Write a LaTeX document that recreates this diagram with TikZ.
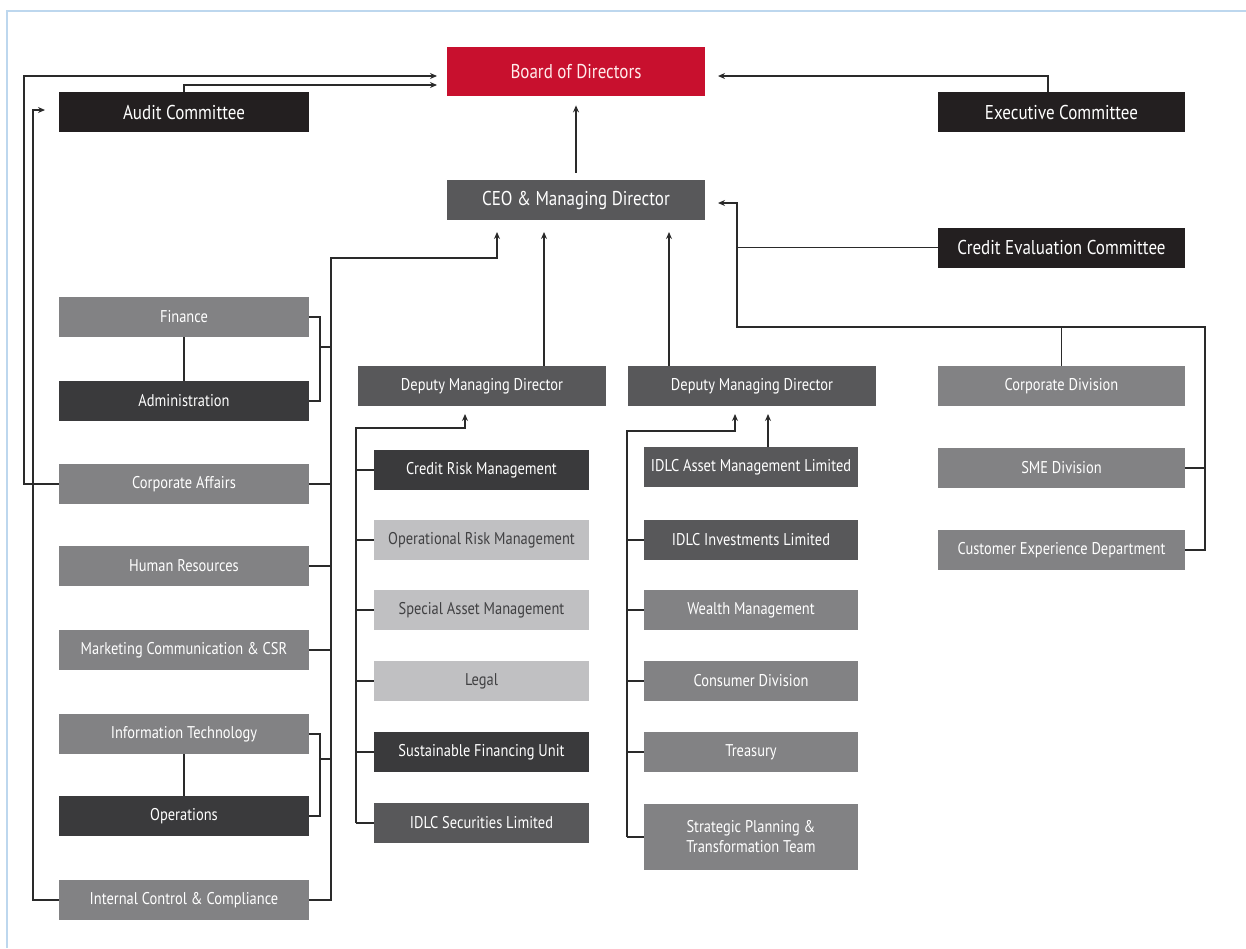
\documentclass[tikz,border=0pt]{standalone}
\usepackage{fontspec}
\setmainfont[FakeStretch=0.85]{PT Sans}
\usetikzlibrary{arrows.meta}
\definecolor{boardred}{HTML}{C8102E}
\definecolor{cblack}{HTML}{231F20}
\definecolor{cmid}{HTML}{58585A}
\definecolor{cdark}{HTML}{3A3A3C}
\definecolor{cgray}{HTML}{828284}
\definecolor{clight}{HTML}{C0C0C2}
\definecolor{ctext}{HTML}{404042}
\definecolor{frameblue}{HTML}{BDD7EE}
\definecolor{wirecol}{HTML}{2A2A2A}

\begin{document}
\begin{tikzpicture}[x=0.5pt,y=-0.5pt,
    box/.style={fill=#1,inner sep=0pt,minimum width=125pt,minimum height=20pt,
      text=white,font=\fontsize{8.5}{10}\selectfont},
    big/.style={font=\fontsize{10}{12}\selectfont},
    wire/.style={draw=wirecol,line width=0.8pt},
    >={Stealth[length=3.5pt,width=3pt]}]
        \useasboundingbox (0,0) rectangle (1246,948);
        \draw[frameblue,line width=1pt] (7,948) -- (7,11) -- (1246,11);

        \node[box=boardred,big,minimum width=129pt,minimum height=24.5pt,text=red!8] (bod) at (576,71.5) {Board of Directors};
        \node[box=cblack,big] (audit) at (184,112) {Audit Committee};
        \node[box=cblack,big,minimum width=123.5pt] (exec) at (1061.5,112) {Executive Committee};
        \node[box=cmid,big,minimum width=129pt] (ceo) at (576,200) {CEO \& Managing Director};
        \node[box=cblack,big,minimum width=123.5pt] (cec) at (1061.5,247.5) {Credit Evaluation Committee};
        \node[box=cmid,minimum width=124pt] (dmd1) at (482,386) {Deputy Managing Director};
        \node[box=cmid,minimum width=124pt] (dmd2) at (752,386) {Deputy Managing Director};

        \foreach \n/\y/\c/\t in {fin/317/cgray/Finance, adm/401/cdark/Administration,
            corp/484/cgray/Corporate Affairs, hr/566/cgray/Human Resources,
            mcc/650/cgray/Marketing Communication \& CSR, it/734/cgray/Information Technology,
            ops/816/cdark/Operations, icc/900/cgray/Internal Control \& Compliance}
          \node[box=\c] (\n) at (184,\y) {\t};

        \foreach \n/\y/\c/\f/\t in {crm/470/cdark/white/Credit Risk Management,
            orm/540/clight/ctext/Operational Risk Management,
            sam/610/clight/ctext/Special Asset Management,
            leg/681/clight/ctext/Legal,
            sfu/752/cdark/white/Sustainable Financing Unit,
            isl/823/cmid/white/IDLC Securities Limited}
          \node[box=\c,text=\f,minimum width=107.5pt] (\n) at (481.5,\y) {\t};

        \foreach \n/\y/\c/\t in {iaml/467/cmid/IDLC Asset Management Limited,
            iil/540/cmid/IDLC Investments Limited, wm/610/cgray/Wealth Management,
            cd/681/cgray/Consumer Division, tre/752/cgray/Treasury}
          \node[box=\c,minimum width=107pt] (\n) at (751,\y) {\t};
        \node[box=cgray,minimum width=107pt,minimum height=33pt,align=center] (sptt) at (751,837)
          {Strategic Planning \&\\Transformation Team};

        \foreach \n/\y/\t in {corpdiv/386/Corporate Division, sme/468/SME Division,
            cust/550/Customer Experience Department}
          \node[box=cgray,minimum width=123.5pt] (\n) at (1061.5,\y) {\t};

        % top level
        \coordinate (ba) at (437,85);
        \coordinate (bc) at (437,76);
        \coordinate (be) at (718,76);
        \coordinate (ex) at (1048,0);
        \coordinate (lo) at (24,0);
        \coordinate (li) at (33,0);
        \coordinate (at) at (45,110);
        \draw[wire,->] ([yshift=3.5pt]ceo.north) -- ([yshift=-4.5pt]bod.south);
        \draw[wire,->] (audit.north) |- (ba);
        \draw[wire,->] (exec.north -| ex) |- (be);
        \draw[wire,->] (corp.west) -- (corp.west -| lo) |- (bc);
        \draw[wire,->] (icc.west) -- (icc.west -| li) |- (at);

        % left column
        \coordinate (lb) at (331,258);
        \coordinate (tl) at (497,232);
        \coordinate (fa) at (320,347);
        \coordinate (io) at (320,759);
        \draw[wire,->] (icc.east) -| (lb) -| (tl);
        \foreach \n in {corp,hr,mcc}
          \draw[wire] (\n.east) -- (\n.east -| lb);
        \draw[wire] (fin.east) -| (fa |- fin.east) |- (adm.east);
        \draw[wire] (it.east) -| (io |- it.east) |- (ops.east);
        \draw[wire] (fa) -- (fa -| lb);
        \draw[wire] (io) -- (io -| lb);
        \draw[wire] (fin.south) -- (adm.north);
        \draw[wire] (it.south) -- (ops.north);

        % deputies
        \coordinate (t1) at (544,232);
        \coordinate (t2) at (669,232);
        \draw[wire,->] (dmd1.north -| t1) -- (t1);
        \draw[wire,->] (dmd2.north -| t2) -- (t2);

        \coordinate (b1) at (356,428);
        \coordinate (d1) at (465,414);
        \draw[wire,->] (isl.west -| b1) |- (d1 |- b1) -- (d1);
        \foreach \n in {crm,orm,sam,leg,sfu,isl}
          \draw[wire] (\n.west) -- (\n.west -| b1);

        \coordinate (b2) at (627,431);
        \coordinate (d2) at (735,414);
        \coordinate (d3) at (768,414);
        \draw[wire,->] (sptt.west -| b2) |- (d2 |- b2) -- (d2);
        \draw[wire,->] (iaml.north -| d3) -- (d3);
        \foreach \n in {iil,wm,cd,tre,sptt}
          \draw[wire] (\n.west) -- (\n.west -| b2);

        % right side
        \coordinate (rb) at (737,327);
        \coordinate (rs) at (1205,327);
        \coordinate (tc) at (718,203);
        \draw[wire,->] (cec.west) -- (cec.west -| rb) |- (tc);
        \draw[wire] (cec.west -| rb) -- (rb) -- (rs) |- (cust.east);
        \draw[wire] (sme.east) -- (sme.east -| rs);
        \draw[wire] (corpdiv.north) -- (corpdiv.north |- rb);
\end{tikzpicture}
\end{document}
